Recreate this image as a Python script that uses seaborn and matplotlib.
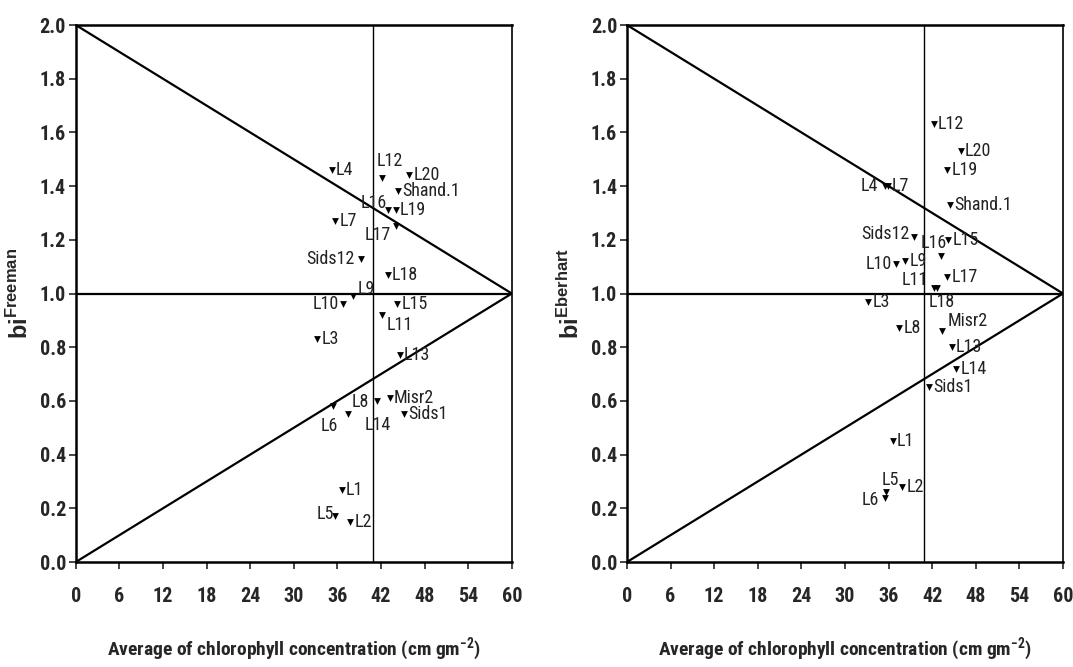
import matplotlib
matplotlib.use("Agg")
import matplotlib.pyplot as plt
from matplotlib import font_manager
import seaborn as sns
import pandas as pd

# genotypes and their stability values
genotypes = ['L1', 'L2', 'L3', 'L4', 'L5', 'L6', 'L7', 'L8', 'L9', 'L10',
             'L11', 'L12', 'L13', 'L14', 'L15', 'L16', 'L17', 'L18', 'L19', 'L20',
             'Misr2', 'Sids1', 'Sids12', 'Shand.1']

freeman_x = [36.6, 37.8, 33.2, 35.2, 35.7, 35.4, 35.7, 37.4, 38.2, 36.8,
             42.2, 42.1, 44.6, 41.5, 44.2, 43.0, 44.0, 42.9, 44.0, 45.9,
             43.2, 45.2, 39.2, 44.4]
freeman_bi = [0.27, 0.15, 0.83, 1.46, 0.17, 0.58, 1.27, 0.55, 0.99, 0.96,
              0.92, 1.43, 0.77, 0.60, 0.96, 1.31, 1.25, 1.07, 1.31, 1.44,
              0.61, 0.55, 1.13, 1.38]

eberhart_x = [36.6, 37.9, 33.2, 35.5, 35.7, 35.5, 35.9, 37.5, 38.3, 37.0,
              42.3, 42.2, 44.7, 45.3, 44.2, 43.2, 44.1, 42.7, 44.1, 45.9,
              43.3, 41.6, 39.5, 44.4]
eberhart_bi = [0.45, 0.28, 0.97, 1.40, 0.26, 0.24, 1.40, 0.87, 1.12, 1.11,
               1.02, 1.63, 0.80, 0.72, 1.20, 1.14, 1.06, 1.02, 1.46, 1.53,
               0.86, 0.65, 1.21, 1.33]

grand_mean = 40.85
x_ticks = list(range(0, 61, 6))
y_ticks = [0.0, 0.2, 0.4, 0.6, 0.8, 1.0, 1.2, 1.4, 1.6, 1.8, 2.0]

# label placement (offset in points, horizontal alignment); default is right of marker
freeman_lab = {'L12': (-4, 12, 'left'), 'L16': (-1, 5, 'right'), 'L17': (-3, -6, 'right'),
               'Sids12': (-4, 0, 'right'), 'L9': (3, 5, 'left'), 'L10': (-3, 0, 'right'),
               'L11': (3, -7, 'left'), 'L14': (0, -17, 'center'), 'L8': (3, 9, 'left'),
               'L6': (-3, -14, 'center'), 'L5': (-1, 2, 'right')}
eberhart_lab = {'L4': (-5, 0, 'right'), 'Sids12': (-3, 2, 'right'), 'L16': (4, 9, 'right'),
                'L10': (-3, 0, 'right'), 'L11': (-5, 6, 'right'), 'L18': (3, -10, 'center'),
                'Misr2': (4, 7, 'left'), 'L5': (3, 9, 'center'), 'L6': (-4, -2, 'right')}

sns.set_style("ticks")

# look for a condensed face that also has a bold weight
def wt(f):
    w = f.weight
    return w if isinstance(w, int) else font_manager.weight_dict.get(w, 400)

ttf = font_manager.fontManager.ttflist
narrow = [f.name for f in ttf if 'Narrow' in f.name or 'Condensed' in f.name]
narrow_bold = {f.name for f in ttf if f.name in narrow and wt(f) >= 700}
narrow_reg = {f.name for f in ttf if f.name in narrow and wt(f) <= 500}
prefer = ['Liberation Sans Narrow', 'Arial Narrow', 'Roboto Condensed',
          'Open Sans Condensed', 'Noto Sans Condensed']
good = [n for n in prefer if n in narrow_bold and n in narrow_reg]
good += sorted(narrow_bold & narrow_reg)
family = good[0] if good else 'Liberation Sans'
plt.rcParams['font.family'] = [family, 'DejaVu Sans']
plt.rcParams['mathtext.fontset'] = 'custom'
plt.rcParams['mathtext.bf'] = family + ':bold'
plt.rcParams['mathtext.rm'] = family
plt.rcParams['mathtext.sf'] = 'Liberation Sans:bold'

fig = plt.figure(figsize=(10.73, 6.67), dpi=100)
ax1 = fig.add_axes([0.0706, 0.1574, 0.4064, 0.8051])
ax2 = fig.add_axes([0.5843, 0.1574, 0.4064, 0.8051])

panels = [(ax1, freeman_x, freeman_bi, freeman_lab, 'Freeman'),
          (ax2, eberhart_x, eberhart_bi, eberhart_lab, 'Eberhart')]

for ax, xs, ys, labpos, who in panels:
    df = pd.DataFrame({'genotype': genotypes, 'chl': xs, 'bi': ys})
    ax.plot([0, 60], [2, 1], color='black', lw=1.6, zorder=1)
    ax.plot([0, 60], [0, 1], color='black', lw=1.6, zorder=1)
    ax.axhline(1.0, color='black', lw=1.6, zorder=1)
    ax.axvline(grand_mean, color='black', lw=1.0, zorder=1)
    sns.scatterplot(data=df, x='chl', y='bi', marker='v', color='black', s=24,
                    edgecolor='black', linewidth=0, ax=ax, zorder=3)
    for g, xv, yv in zip(df['genotype'], df['chl'], df['bi']):
        dx, dy, ha = labpos.get(g, (3, 0, 'left'))
        ax.annotate(g, (xv, yv), xytext=(dx, dy), textcoords='offset points',
                    ha=ha, va='center', fontsize=13, color='#222222')
    ax.set_xlim(0, 60)
    ax.set_ylim(0, 2)
    ax.set_xticks(x_ticks)
    ax.set_yticks(y_ticks)
    ax.set_yticklabels(['%.1f' % v for v in y_ticks])
    ax.tick_params(axis='x', length=5, width=1.2, pad=13, labelsize=14.5)
    ax.tick_params(axis='y', length=5, width=1.2, pad=2, labelsize=14.5)
    for lab in ax.get_xticklabels() + ax.get_yticklabels():
        lab.set_fontweight('bold')
    for side in ['left', 'bottom', 'top']:
        ax.spines[side].set_linewidth(1.8)
    ax.spines['right'].set_linewidth(1.2)
    for sp in ax.spines.values():
        sp.set_color('black')
    ax.set_xlabel(r'Average of chlorophyll concentration (cm gm$^{\mathbf{-2}}$)',
                  fontsize=14, fontweight='bold', labelpad=21)
    ax.set_ylabel(r'$\mathsf{bi}^{\mathsf{%s}}$' % who, fontsize=17, labelpad=5)

fig.savefig('out.png', dpi=100)
